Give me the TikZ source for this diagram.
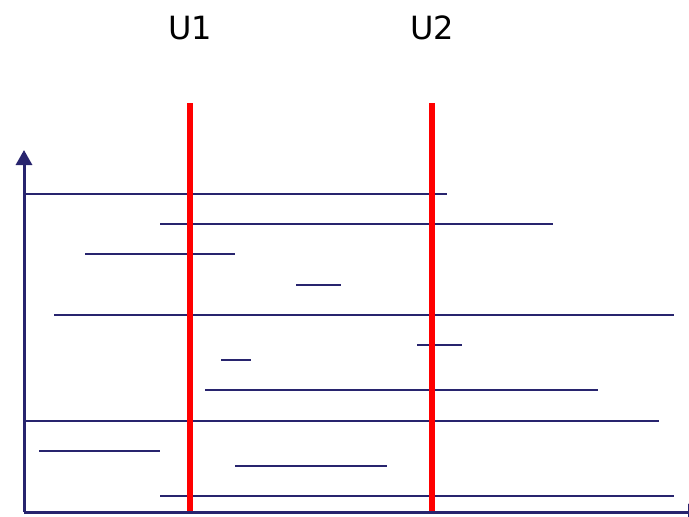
\documentclass[tikz,border=0pt]{standalone}
\usepackage{fontspec}
\setmainfont{DejaVu Sans}
\usetikzlibrary{arrows.meta}
\definecolor{navy}{RGB}{40,36,110}
\tikzset{
  seg/.style={draw=navy, line width=2.4pt},
  axisline/.style={draw=navy, line width=3pt, -{Triangle[length=15pt,width=16pt]}},
  marker/.style={draw=red, line width=5.5pt},
  lbl/.style={font=\fontsize{32}{40}\selectfont, inner sep=0pt}
}
\begin{document}
\begin{tikzpicture}[x=1pt,y=-1pt]
\useasboundingbox (0,0) rectangle (689,517);
% labels
\node[lbl] (u1) at (190,28) {U1};
\node[lbl] (u2) at (432,28) {U2};
% intervals
\draw[seg] (24,194) -- (447,194);
\draw[seg] (160,224) -- (553,224);
\draw[seg] (85,254) -- (235,254);
\draw[seg] (296,285) -- (341,285);
\draw[seg] (54,315) -- (674,315);
\draw[seg] (417,345) -- (462,345);
\draw[seg] (221,360) -- (251,360);
\draw[seg] (205,390) -- (598,390);
\draw[seg] (24,421) -- (659,421);
\draw[seg] (39,451) -- (160,451);
\draw[seg] (235,466) -- (387,466);
\draw[seg] (160,496) -- (674,496);
% red lines
\coordinate (r1top) at (190,103);
\coordinate (r1bot) at (190,511);
\coordinate (r2top) at (432,103);
\coordinate (r2bot) at (432,511);
\draw[marker] (r1top) -- (r1bot);
\draw[marker] (r2top) -- (r2bot);
% axes
\coordinate (origin) at (24,512);
\coordinate (ytip) at (24,150);
\coordinate (xtip) at (703,512);
\draw[axisline] (origin) -- (ytip);
\draw[axisline] (origin) -- (xtip);
\end{tikzpicture}
\end{document}
